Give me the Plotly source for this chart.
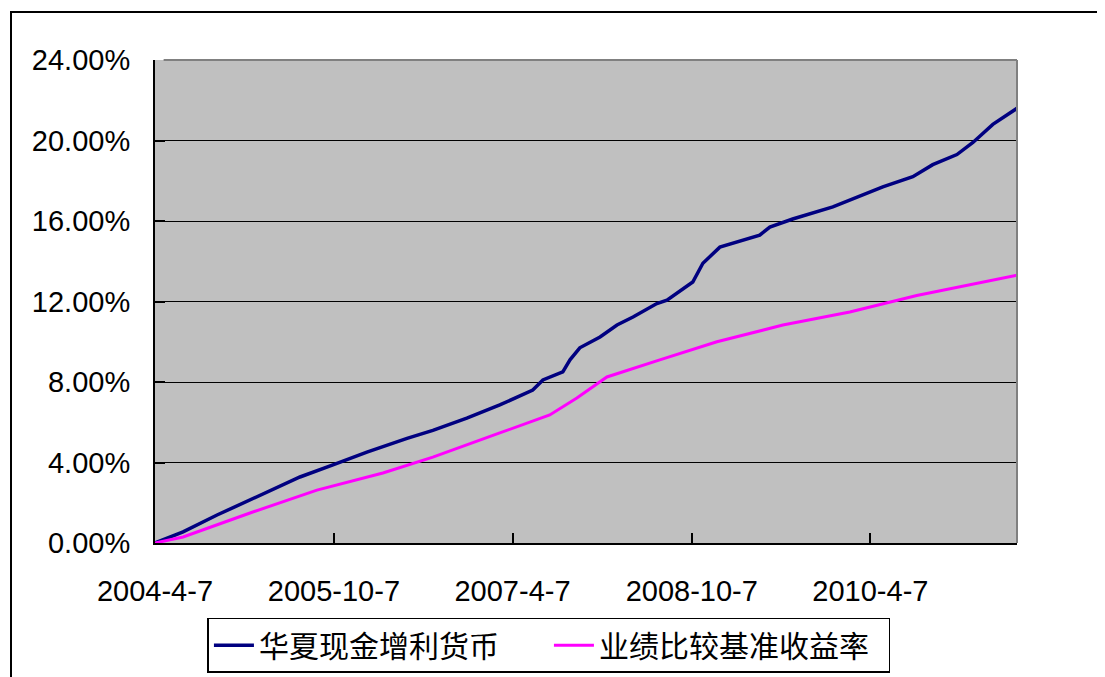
import plotly.graph_objects as go

fund_dates = ["2004-04-07", "2004-07-02", "2004-10-14", "2005-01-23", "2005-04-16", "2005-06-25",
              "2005-10-04", "2006-01-16", "2006-05-19", "2006-08-06", "2006-11-18", "2007-02-27",
              "2007-06-08", "2007-07-09", "2007-09-08", "2007-09-30", "2007-10-30", "2007-12-31",
              "2008-02-21", "2008-04-10", "2008-06-22", "2008-07-23", "2008-10-10", "2008-11-10",
              "2009-01-01", "2009-05-03", "2009-06-03", "2009-08-12", "2009-12-13", "2010-05-15",
              "2010-08-15", "2010-10-15", "2010-12-28", "2011-02-15", "2011-04-17", "2011-06-30"]
fund_values = [0.00, 0.55, 1.39, 2.14, 2.78, 3.28,
               3.88, 4.52, 5.20, 5.60, 6.20, 6.86,
               7.60, 8.10, 8.50, 9.10, 9.70, 10.24,
               10.83, 11.23, 11.90, 12.07, 12.97, 13.90,
               14.70, 15.30, 15.70, 16.10, 16.70, 17.70,
               18.20, 18.80, 19.30, 19.90, 20.80, 21.60]

bench_dates = ["2004-04-07", "2004-07-02", "2005-01-23", "2005-08-16", "2006-03-06", "2006-08-06",
               "2007-02-27", "2007-07-30", "2007-10-21", "2008-01-21", "2008-07-01", "2008-12-23",
               "2009-07-13", "2010-02-03", "2010-08-27", "2011-06-30"]
bench_values = [0.00, 0.30, 1.49, 2.63, 3.48, 4.27,
                5.47, 6.36, 7.20, 8.25, 9.10, 10.00,
                10.83, 11.48, 12.30, 13.30]

tick_dates = ["2004-04-07", "2005-10-07", "2007-04-07", "2008-10-07", "2010-04-07"]
tick_labels = ["2004-4-7", "2005-10-7", "2007-4-7", "2008-10-7", "2010-4-7"]
y_ticks = [0, 4, 8, 12, 16, 20, 24]
y_labels = ["0.00%", "4.00%", "8.00%", "12.00%", "16.00%", "20.00%", "24.00%"]

fund_name = "华夏现金增利货币"
bench_name = "业绩比较基准收益率"

fig = go.Figure()
fig.add_trace(go.Scatter(x=fund_dates, y=fund_values, mode="lines", name=fund_name,
                         line=dict(color="#000080", width=3.5)))
fig.add_trace(go.Scatter(x=bench_dates, y=bench_values, mode="lines", name=bench_name,
                         line=dict(color="#FF00FF", width=3)))

fig.update_layout(
    width=1097, height=669,
    margin=dict(l=147, r=88, t=52, b=134, autoexpand=False),
    paper_bgcolor="white",
    plot_bgcolor="#C0C0C0",
    font=dict(family="Liberation Sans, Arial, sans-serif", size=29, color="black"),
    showlegend=True,
    legend=dict(orientation="h", x=0.457, xanchor="center", y=-0.155, yanchor="top",
                bgcolor="white", bordercolor="black", borderwidth=1.5,
                font=dict(family="Noto Sans CJK SC", size=30, color="black"),
                itemwidth=40, entrywidth=285, tracegroupgap=0),
    xaxis=dict(type="date", range=["2004-04-07", "2011-06-30"],
               tickvals=tick_dates, ticktext=tick_labels,
               showgrid=False, zeroline=False,
               showline=True, linecolor="black", linewidth=2,
               ticks="inside", ticklen=10, tickwidth=2, tickcolor="black",
               ticklabelstandoff=21),
    yaxis=dict(range=[0, 24], tickvals=y_ticks, ticktext=y_labels,
               showgrid=True, gridcolor="black", gridwidth=1,
               zeroline=False,
               showline=True, linecolor="black", linewidth=2,
               ticks="inside", ticklen=10, tickwidth=2, tickcolor="black",
               ticklabelstandoff=17),
)

# gray top/right border of plot area
fig.add_shape(type="line", xref="paper", yref="paper", x0=0.01, x1=1, y0=1, y1=1,
              line=dict(color="#808080", width=2), layer="above")
fig.add_shape(type="line", xref="paper", yref="paper", x0=1, x1=1, y0=0, y1=1,
              line=dict(color="#808080", width=2), layer="above")
# outer chart frame
fig.add_shape(type="rect", xref="paper", yref="paper",
              x0=(3 - 147) / 862, x1=1.3, y0=-0.4, y1=(535 - 4) / 483,
              line=dict(color="black", width=2), fillcolor="rgba(0,0,0,0)", layer="below")

fig.write_html("out.html")
